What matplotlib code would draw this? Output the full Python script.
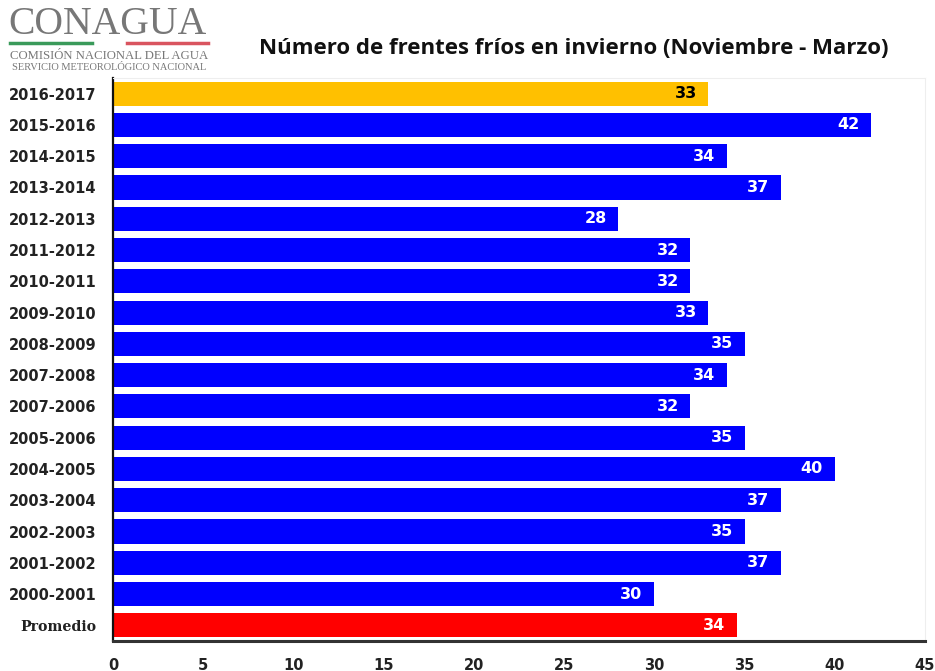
import numpy as np
import matplotlib
matplotlib.use("Agg")
import matplotlib.pyplot as plt

# temporadas de invierno, de la mas reciente a la mas antigua
temporadas = ["2016-2017", "2015-2016", "2014-2015", "2013-2014", "2012-2013",
              "2011-2012", "2010-2011", "2009-2010", "2008-2009", "2007-2008",
              "2007-2006", "2005-2006", "2004-2005", "2003-2004", "2002-2003",
              "2001-2002", "2000-2001"]
frentes = [33, 42, 34, 37, 28, 32, 32, 33, 35, 34, 32, 35, 40, 37, 35, 37, 30]
x_ticks = [0, 5, 10, 15, 20, 25, 30, 35, 40, 45]

# promedio de las temporadas completas (sin la actual)
promedio = np.mean(frentes[1:])

etiquetas = temporadas + ["Promedio"]
valores = frentes + [promedio]
colores = ["#FFC000"] + ["#0000FF"] * (len(frentes) - 1) + ["#FF0000"]

fig = plt.figure(figsize=(9.35, 6.71), dpi=100)
ax = fig.add_axes([113 / 935, 30 / 671, 812 / 935, 563 / 671])

y = np.arange(len(valores))[::-1]
ax.barh(y, valores, height=0.77, color=colores, edgecolor="none")

for yi, v, c in zip(y, valores, colores):
    txt_color = "black" if c == "#FFC000" else "white"
    ax.text(v - 0.65, yi, f"{int(v)}", ha="right", va="center",
            color=txt_color, fontsize=11.5, fontweight="bold",
            family="DejaVu Sans")

ax.set_xlim(0, 45)
ax.set_ylim(-0.5, len(valores) - 0.5)
ax.set_xticks(x_ticks)
ax.set_xticklabels([str(t) for t in x_ticks], fontsize=10.5, fontweight="bold",
                   family="DejaVu Sans", color="#222222")
ax.set_yticks(y)
ax.set_yticklabels(etiquetas, fontsize=10.5, fontweight="bold",
                   family="DejaVu Sans", color="#222222")
for lbl in ax.get_yticklabels():
    if lbl.get_text() == "Promedio":
        lbl.set_family("DejaVu Serif")
        lbl.set_fontsize(10.2)
ax.tick_params(axis="both", length=0)
ax.tick_params(axis="x", pad=12)
ax.tick_params(axis="y", pad=12)

ax.spines["left"].set_color("#111111")
ax.spines["left"].set_linewidth(1.6)
ax.spines["bottom"].set_color("#333333")
ax.spines["bottom"].set_linewidth(2.2)
for s in ["top", "right"]:
    ax.spines[s].set_color("#EEEEEE")
    ax.spines[s].set_linewidth(0.8)

fig.text(574 / 935, 1 - 48 / 671, "Número de frentes fríos en invierno (Noviembre - Marzo)",
         ha="center", va="center", fontsize=16, fontweight="bold",
         family="Open Sans", color="#111111")

# logotipo de texto
fig.text(108 / 935, 1 - 24 / 671, "CONAGUA", ha="center", va="center",
         fontsize=28.5, family="Liberation Serif", color="#777777")
fig.add_artist(plt.Line2D([10 / 935, 92 / 935], [1 - 43 / 671] * 2,
                          color="#3a9a5a", lw=2.5, transform=fig.transFigure))
fig.add_artist(plt.Line2D([127 / 935, 208 / 935], [1 - 43 / 671] * 2,
                          color="#d9545f", lw=2.5, transform=fig.transFigure))
fig.text(109 / 935, 1 - 56 / 671, "COMISIÓN NACIONAL DEL AGUA", ha="center",
         va="center", fontsize=9.2, family="Liberation Serif", color="#777777")
fig.text(109 / 935, 1 - 68 / 671, "SERVICIO METEOROLÓGICO NACIONAL", ha="center",
         va="center", fontsize=7.5, family="Liberation Serif", color="#777777")

fig.savefig("out.png", dpi=100)
